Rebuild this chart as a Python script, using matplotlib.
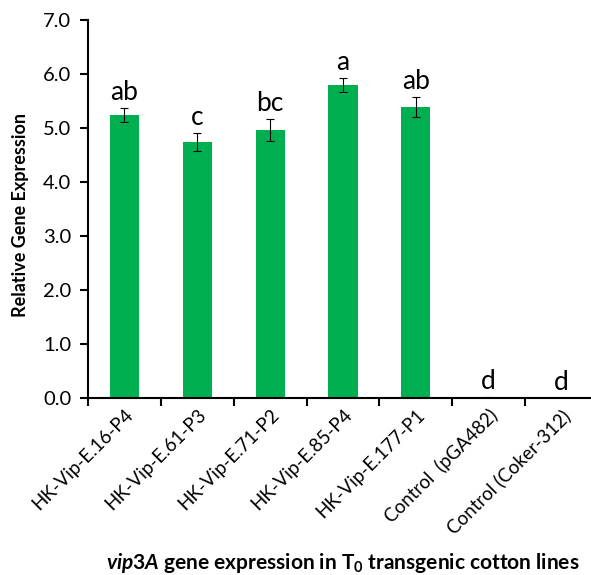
import numpy as np
import matplotlib.pyplot as plt

lines = ["HK-Vip-E.16-P4", "HK-Vip-E.61-P3", "HK-Vip-E.71-P2", "HK-Vip-E.85-P4",
         "HK-Vip-E.177-P1", "Control  (pGA482)", "Control (Coker-312)"]
expr = [5.24, 4.74, 4.96, 5.80, 5.39, 0.01, 0.0]
err = [0.13, 0.17, 0.20, 0.13, 0.18, 0.01, 0.0]
groups = ["ab", "c", "bc", "a", "ab", "d", "d"]

plt.rcParams['font.family'] = ['Lato', 'DejaVu Sans']
plt.rcParams['mathtext.fontset'] = 'custom'
plt.rcParams['mathtext.it'] = 'Lato:bold:italic'
plt.rcParams['mathtext.rm'] = 'Lato:bold'
plt.rcParams['mathtext.bf'] = 'Lato:bold'

fig = plt.figure(figsize=(5.91, 5.75), dpi=100)
ax = fig.add_axes([88/591, 177/575, 510/591, 378/575])

x = np.arange(len(lines))
ax.bar(x, expr, width=0.4, color="#00b050", yerr=err, capsize=3,
       error_kw=dict(ecolor="black", elinewidth=0.8, capthick=0.8))

for xi, v, e, g in zip(x, expr, err, groups):
    ax.text(xi, v + e + 0.06, g, ha="center", va="bottom", fontsize=19)

ax.set_xlim(-0.5, len(lines) - 0.5)
ax.set_ylim(0, 7)
ax.set_yticks(np.arange(0, 7.1, 1.0))
ax.set_yticklabels(["%.1f" % t for t in np.arange(0, 7.1, 1.0)], fontsize=14.5)
ax.set_xticks(x - 0.5, minor=False)
ax.set_xticklabels([])
ax.set_xticks(x, minor=True)
ax.set_xticklabels(lines, minor=True, rotation=45, ha="right",
                   rotation_mode="anchor", fontsize=13.5)
ax.tick_params(axis="x", which="minor", length=0, pad=6)
ax.tick_params(axis="x", which="major", length=6, width=1.5, direction="out")
ax.tick_params(axis="y", length=6, width=1.5, direction="out", pad=6)

for s in ["top", "right"]:
    ax.spines[s].set_visible(False)
for s in ["left", "bottom"]:
    ax.spines[s].set_linewidth(1.5)

fig.text(21/591, 1 - 215/575, "Relative Gene Expression", rotation=90,
         ha="center", va="center", fontsize=13, fontweight="bold")
fig.text(343/591, 1 - 563/575,
         r"$\mathit{vip3A}$ gene expression in T$_0$ transgenic cotton lines",
         ha="center", va="center", fontsize=15, fontweight="bold")

fig.savefig("out.png", dpi=100)
